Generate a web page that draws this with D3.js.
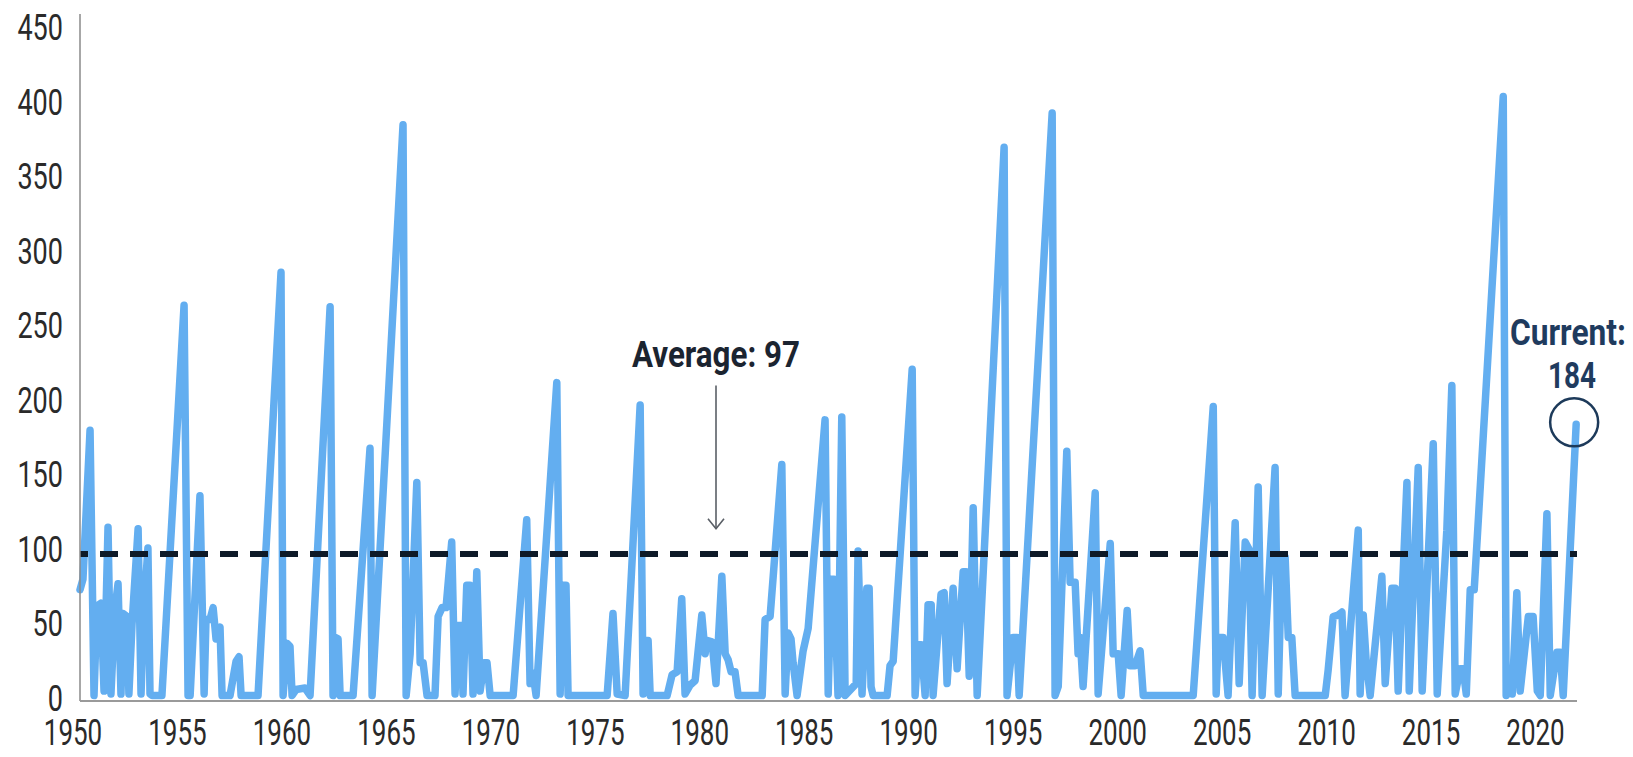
<!DOCTYPE html>
<html>
<head>
<meta charset="utf-8">
<script src="https://cdn.jsdelivr.net/npm/d3@7"></script>
<style>
  html, body { margin: 0; padding: 0; background: #ffffff; }
  svg { display: block; }
  .lbl { font-family: Roboto, "Liberation Sans", sans-serif; }
</style>
</head>
<body>
<svg id="chart" width="1633" height="757"></svg>
<script>
// ---- data ----
const years = [
  1950.36,1950.50,1950.84,1951.03,1951.17,1951.36,1951.51,1951.70,1951.84,1952.03,1952.18,1952.32,1952.42,1952.61,1952.70,1952.85,
  1953.14,1953.28,1953.42,1953.61,1953.71,1953.81,1954.28,1955.34,1955.53,1955.63,1956.10,1956.30,1956.39,1956.58,1956.73,1956.87,
  1957.06,1957.16,1957.54,1957.83,1957.97,1958.07,1958.88,1959.98,1960.08,1960.27,1960.41,1960.51,1960.70,1961.13,1961.37,1962.33,
  1962.47,1962.57,1962.71,1962.81,1963.43,1964.24,1964.34,1965.82,1965.97,1966.16,1966.48,1966.64,1966.78,1966.97,1967.35,1967.50,
  1967.69,1967.88,1968.15,1968.31,1968.45,1968.60,1968.69,1968.87,1969.03,1969.17,1969.35,1969.51,1969.70,1969.84,1969.99,1971.09,
  1971.74,1971.90,1972.04,1972.19,1973.18,1973.34,1973.48,1973.62,1973.72,1975.59,1975.87,1976.07,1976.45,1977.17,1977.31,1977.41,
  1977.55,1977.65,1978.46,1978.70,1978.94,1979.16,1979.32,1979.56,1979.80,1980.12,1980.28,1980.36,1980.61,1980.80,1981.08,1981.24,
  1981.38,1981.52,1981.71,1981.86,1983.01,1983.15,1983.39,1983.95,1984.11,1984.25,1984.39,1984.49,1984.68,1984.97,1985.21,1986.02,
  1986.17,1986.31,1986.45,1986.64,1986.82,1986.98,1987.51,1987.60,1987.79,1988.02,1988.13,1988.22,1988.32,1988.99,1989.13,1989.28,
  1990.19,1990.33,1990.47,1990.62,1990.81,1990.95,1991.10,1991.19,1991.57,1991.72,1991.86,1992.15,1992.34,1992.63,1992.77,1992.92,
  1993.11,1993.30,1994.59,1994.73,1995.02,1995.21,1995.31,1996.89,1997.03,1997.18,1997.59,1997.75,1997.99,1998.13,1998.23,1998.37,
  1998.95,1999.09,1999.67,1999.81,2000.05,2000.19,2000.48,2000.62,2000.86,2001.10,2001.25,2003.64,2004.60,2004.74,2004.84,2005.07,
  2005.31,2005.65,2005.84,2006.13,2006.32,2006.46,2006.75,2006.94,2007.56,2007.71,2007.88,2008.04,2008.19,2008.36,2008.52,2009.96,
  2010.10,2010.34,2010.58,2010.76,2010.91,2011.54,2011.63,2011.78,2011.92,2012.11,2012.67,2012.83,2013.15,2013.31,2013.45,2013.87,
  2013.98,2014.41,2014.60,2015.13,2015.32,2015.78,2016.02,2016.18,2016.42,2016.56,2016.71,2016.90,2017.09,2018.48,2018.62,2018.77,
  2018.91,2019.13,2019.29,2019.68,2019.91,2020.11,2020.25,2020.57,2020.73,2021.05,2021.21,2021.35,2021.97
];
const values = [
  73,80,180,2,62,64,5,115,3,60,77,3,57,55,3,50,
  114,3,60,101,3,2,2,264,2,2,136,3,53,53,61,40,
  48,2,2,25,28,2,2,286,2,37,35,2,6,7,2,263,
  2,41,40,2,2,168,2,385,2,30,145,24,24,2,2,55,
  61,61,105,3,49,49,3,76,76,3,85,5,24,24,2,2,
  120,10,17,2,212,3,76,76,2,2,57,3,2,197,3,39,
  39,2,2,16,18,67,3,9,12,56,30,39,38,10,82,30,
  26,18,18,2,2,53,55,157,3,44,40,24,2,32,47,187,
  3,80,80,2,189,2,10,99,3,74,74,8,2,2,22,25,
  221,2,36,36,2,63,63,2,70,71,10,74,20,85,85,15,
  128,2,370,2,41,41,2,393,2,8,166,78,78,30,41,8,
  138,3,104,30,30,2,59,22,22,32,2,2,196,3,41,41,
  2,118,10,105,100,2,142,2,155,3,95,95,41,41,2,2,
  19,55,56,58,2,113,3,56,25,2,82,10,74,74,5,145,
  5,155,5,171,3,113,210,3,20,20,3,73,73,404,2,17,
  3,71,5,55,55,5,2,124,2,31,31,2,184
];
const xTicks = [1950,1955,1960,1965,1970,1975,1980,1985,1990,1995,2000,2005,2010,2015,2020];
const yTicks = [0,50,100,150,200,250,300,350,400,450];
const averageValue = 97;
const averageLabel = "Average: 97";
const currentLabel1 = "Current:";
const currentLabel2 = "184";
const arrowYear = 1980.8;

// ---- layout ----
const svg = d3.select("#chart");
const x = d3.scaleLinear().domain([1950, 2020]).range([72.5, 1535]);
const y = d3.scaleLinear().domain([0, 450]).range([698.5, 28]);
const plotLeft = 80, plotRight = 1577, axisBottomY = 701, axisTopY = 14;
const digitW = 15.2;

const data = years.map((yr, i) => ({ yr, v: values[i] }));

// series line
const line = d3.line().x(d => x(d.yr)).y(d => y(d.v));
svg.append("path")
  .datum(data)
  .attr("d", line)
  .attr("fill", "none")
  .attr("stroke", "#63aef0")
  .attr("stroke-width", 7.5)
  .attr("stroke-linejoin", "round")
  .attr("stroke-linecap", "round");

// average dashed line
svg.append("line")
  .attr("x1", plotLeft).attr("x2", plotRight)
  .attr("y1", y(averageValue)).attr("y2", y(averageValue))
  .attr("stroke", "#0e1a28")
  .attr("stroke-width", 6)
  .attr("stroke-dasharray", "18,12")
  .attr("stroke-dashoffset", 10);

// axis lines
svg.append("line")
  .attr("x1", plotLeft).attr("x2", plotLeft)
  .attr("y1", axisTopY).attr("y2", axisBottomY)
  .attr("stroke", "#8a8a8a").attr("stroke-width", 1.5);
svg.append("line")
  .attr("x1", plotLeft).attr("x2", plotRight)
  .attr("y1", axisBottomY).attr("y2", axisBottomY)
  .attr("stroke", "#9a9a9a").attr("stroke-width", 2);

// y axis labels
const yAxis = svg.append("g")
  .attr("transform", `translate(${plotLeft},0)`)
  .call(d3.axisLeft(y).tickValues(yTicks).tickSize(0).tickPadding(17));
yAxis.select(".domain").remove();
yAxis.selectAll("text")
  .attr("class", "lbl")
  .style("font-size", "36px")
  .attr("fill", "#2a2a2a")
  .attr("textLength", d => String(d).length * digitW)
  .attr("lengthAdjust", "spacingAndGlyphs");

// x axis labels
const xAxis = svg.append("g")
  .attr("transform", `translate(0,${axisBottomY})`)
  .call(d3.axisBottom(x).tickValues(xTicks).tickFormat(d3.format("d")).tickSize(0).tickPadding(18));
xAxis.select(".domain").remove();
xAxis.selectAll("text")
  .attr("class", "lbl")
  .style("font-size", "36px")
  .attr("fill", "#2a2a2a")
  .attr("textLength", d => String(d).length * 14.6)
  .attr("lengthAdjust", "spacingAndGlyphs");

// average annotation
svg.append("text")
  .attr("class", "lbl")
  .attr("x", x(arrowYear)).attr("y", 367)
  .attr("text-anchor", "middle")
  .style("font-size", "36px").style("font-weight", "bold")
  .attr("fill", "#1b2430")
  .attr("textLength", 168).attr("lengthAdjust", "spacingAndGlyphs")
  .text(averageLabel);

const ax = x(arrowYear), aTop = y(210), aBot = y(114);
svg.append("line")
  .attr("x1", ax).attr("x2", ax).attr("y1", aTop).attr("y2", aBot)
  .attr("stroke", "#5a5f66").attr("stroke-width", 1.6);
svg.append("path")
  .attr("d", `M${ax - 8},${aBot - 10} L${ax},${aBot} L${ax + 8},${aBot - 10}`)
  .attr("fill", "none").attr("stroke", "#5a5f66").attr("stroke-width", 1.6);

// current annotation
const last = data[data.length - 1];
svg.append("circle")
  .attr("cx", x(last.yr) - 2).attr("cy", y(last.v) - 2)
  .attr("r", 24)
  .attr("fill", "none")
  .attr("stroke", "#1d3a5a")
  .attr("stroke-width", 2.5);
svg.append("text")
  .attr("class", "lbl")
  .attr("x", 1568).attr("y", 345)
  .attr("text-anchor", "middle")
  .style("font-size", "36px").style("font-weight", "bold")
  .attr("fill", "#1f3b5e")
  .attr("textLength", 116).attr("lengthAdjust", "spacingAndGlyphs")
  .text(currentLabel1);
svg.append("text")
  .attr("class", "lbl")
  .attr("x", 1572).attr("y", 388)
  .attr("text-anchor", "middle")
  .style("font-size", "36px").style("font-weight", "bold")
  .attr("fill", "#1f3b5e")
  .attr("textLength", 48).attr("lengthAdjust", "spacingAndGlyphs")
  .text(currentLabel2);
</script>
</body>
</html>
